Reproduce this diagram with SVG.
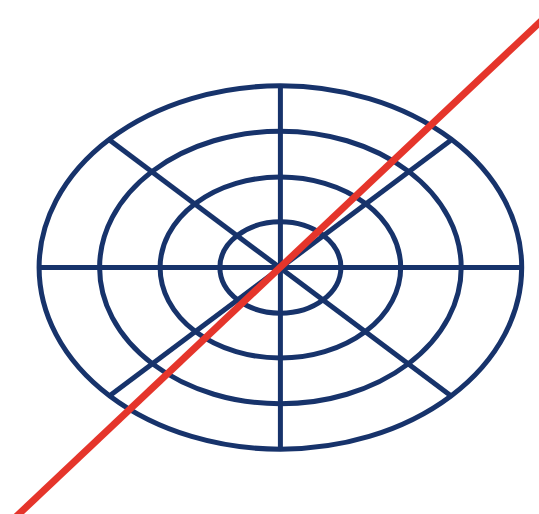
<svg xmlns="http://www.w3.org/2000/svg" width="539" height="514" viewBox="0 0 539 514">
<style>
.g{fill:none;stroke:#17336b;stroke-width:5}
.r{stroke:#e5352b;stroke-width:7}
</style>
<rect width="539" height="514" fill="#fff"/>
<g id="target">
<ellipse class="g" cx="280.4" cy="267.5" rx="241.3" ry="181.7"/>
<ellipse class="g" cx="280.4" cy="267.5" rx="180.8" ry="136.3"/>
<ellipse class="g" cx="280.4" cy="267.5" rx="120.3" ry="90.5"/>
<ellipse class="g" cx="280.4" cy="267.5" rx="60.5" ry="45.7"/>
<line class="g" x1="39" y1="267.5" x2="522" y2="267.5"/>
<line class="g" x1="280.4" y1="86" x2="280.4" y2="449"/>
<line class="g" x1="109.5" y1="140" x2="450.5" y2="395.5"/>
<line class="g" x1="450.5" y1="140.5" x2="110" y2="395.5"/>
</g>
<g id="strike">
<line class="r" x1="-10" y1="541.3" x2="560" y2="3.2"/>
</g>
</svg>
